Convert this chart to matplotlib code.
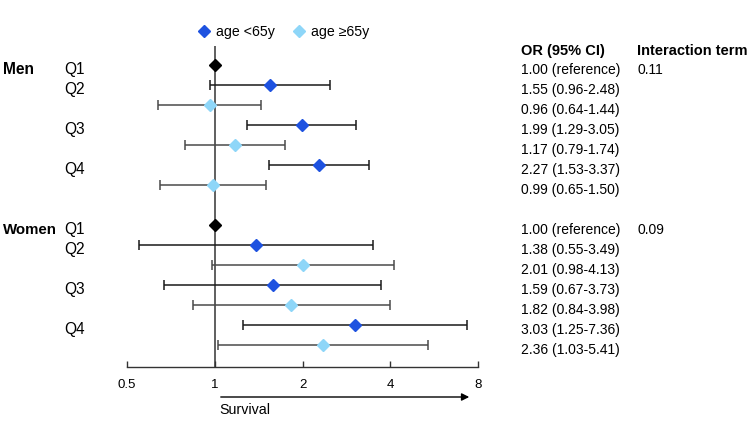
import numpy as np
import matplotlib
matplotlib.use("Agg")
import matplotlib.pyplot as plt
from matplotlib.transforms import blended_transform_factory
from matplotlib.lines import Line2D

plt.rcParams['font.family'] = ['Liberation Sans', 'DejaVu Sans']

# ---- data ----
groups = ["Men", "Women"]
quartiles = ["Q1", "Q2", "Q3", "Q4"]
series = ["age <65y", "age \u226565y"]
men_or = [1.00, 1.55, 0.96, 1.99, 1.17, 2.27, 0.99]
men_lo = [1.00, 0.96, 0.64, 1.29, 0.79, 1.53, 0.65]
men_hi = [1.00, 2.48, 1.44, 3.05, 1.74, 3.37, 1.50]
women_or = [1.00, 1.38, 2.01, 1.59, 1.82, 3.03, 2.36]
women_lo = [1.00, 0.55, 0.98, 0.67, 0.84, 1.25, 1.03]
women_hi = [1.00, 3.49, 4.13, 3.73, 3.98, 7.36, 5.41]
row_kind = ["ref", "young", "old", "young", "old", "young", "old"]
interaction = ["0.11", "0.09"]
xticks = [0.5, 1, 2, 4, 8]

colors = {"ref": "#000000", "young": "#1E52E0", "old": "#8ED6F8"}
bar_colors = {"ref": "#000000", "young": "#1a1a1a", "old": "#4a4a4a"}

W, H = 754, 435
fig = plt.figure(figsize=(W / 100, H / 100), dpi=100)
x0, x1 = 127, 478
ytop, ybot = 47, 368
ax = fig.add_axes([x0 / W, (H - ybot) / H, (x1 - x0) / W, (ybot - ytop) / H])
ax.set_xscale('log', base=2)
ax.set_xlim(0.5, 8)
# row i at pixel 66 + 20 i
ax.set_ylim((ybot - 66) / 20, (ytop - 66) / 20)

for s in ["top", "right", "left"]:
    ax.spines[s].set_visible(False)
ax.spines["bottom"].set_color("#333333")
ax.spines["bottom"].set_linewidth(1.0)
ax.set_xticks(xticks)
ax.set_xticklabels([f"{t:g}" for t in xticks])
ax.minorticks_off()
ax.tick_params(axis='x', direction='in', length=4, width=1, colors="#333333",
               labelcolor="#000000", labelsize=9.5, pad=8)
ax.set_yticks([])

ax.axvline(1, color="#444444", lw=1.2, zorder=1)

trans = blended_transform_factory(fig.transFigure, ax.transData)
fs = 10
fs_lab = 11.2
dy = 0.18

for g, (name, ors, los, his) in enumerate([(groups[0], men_or, men_lo, men_hi),
                                          (groups[1], women_or, women_lo, women_hi)]):
    base = g * 8
    for k in range(7):
        r = base + k
        kind = row_kind[k]
        if kind != "ref":
            ax.errorbar(ors[k], r, xerr=[[ors[k] - los[k]], [his[k] - ors[k]]],
                        fmt='none', ecolor=bar_colors[kind], elinewidth=1.1,
                        capsize=3.5, capthick=1.1, zorder=2)
        ax.plot(ors[k], r, marker='D', ms=6.5 if kind != "ref" else 6,
                color=colors[kind], mec=colors[kind], ls='none', zorder=3)
        if kind == "ref":
            txt = f"{ors[k]:.2f} (reference)"
        else:
            txt = f"{ors[k]:.2f} ({los[k]:.2f}-{his[k]:.2f})"
        ax.text(521 / W, r + dy, txt, transform=trans, fontsize=fs, va='center', ha='left')
    ax.text(3 / W, base + dy, name, transform=trans, fontsize=fs_lab if g == 0 else 10.8,
            fontweight='bold', va='center', ha='left')
    for q in range(4):
        ax.text(64 / W, base + [0, 1, 3, 5][q] + dy, quartiles[q], transform=trans,
                fontsize=fs_lab, va='center', ha='left')
    ax.text(637 / W, base + dy, interaction[g], transform=trans, fontsize=fs,
            va='center', ha='left')

# headers
ax.text(521 / W, -0.75, "OR (95% CI)", transform=trans, fontsize=10.5, fontweight='bold',
        va='center', ha='left')
ax.text(637 / W, -0.75, "Interaction term", transform=trans, fontsize=10.5,
        fontweight='bold', va='center', ha='left')

# legend
ly = 1 - 32 / H
for xm, xt, kind, lab in [(204, 216, "young", series[0]), (299, 311, "old", series[1])]:
    fig.add_artist(Line2D([xm / W], [ly], marker='D', ms=6.5, color=colors[kind],
                          mec=colors[kind], ls='none', transform=fig.transFigure))
    fig.text(xt / W, ly, lab, fontsize=10.2, va='center', ha='left')

# survival arrow
fig.add_artist(matplotlib.patches.FancyArrowPatch(
    (218 / W, 1 - 398 / H), (472 / W, 1 - 398 / H), transform=fig.transFigure,
    arrowstyle='-|>', mutation_scale=11, color='black', lw=1.0))
fig.text(219 / W, 1 - 410 / H, "Survival", fontsize=10.3, va='center', ha='left')

fig.savefig("out.png", dpi=100)
